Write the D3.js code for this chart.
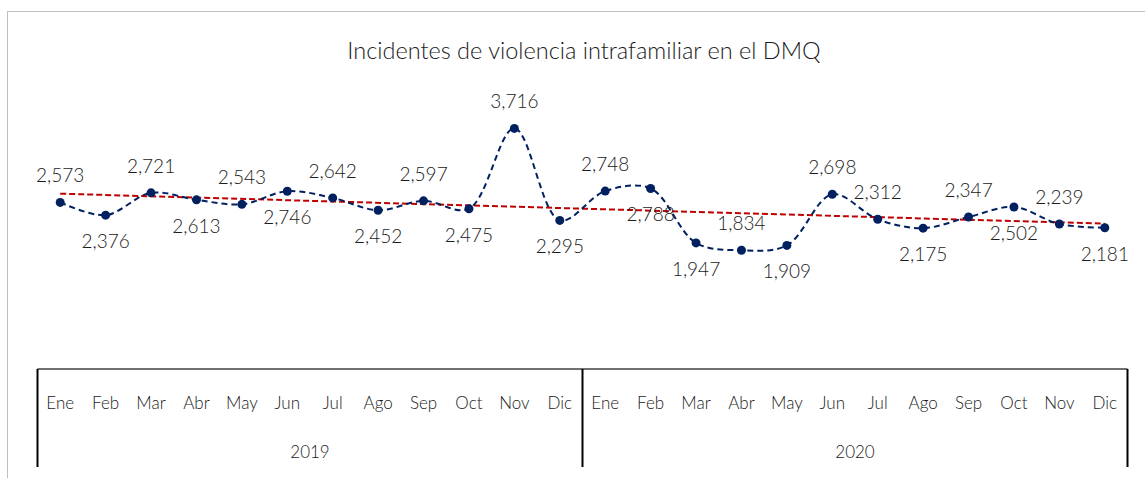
<!DOCTYPE html>
<html>
<head>
<meta charset="utf-8">
<script src="https://cdn.jsdelivr.net/npm/d3@7"></script>
<style>
  body { margin: 0; background: #fff; }
  text { font-family: "Lato", "Noto Sans", sans-serif; font-weight: 300; fill: #1a1a1a; }
</style>
</head>
<body>
<div id="chart"></div>
<script>
// data
var years = ["2019", "2020"];
var months = ["Ene","Feb","Mar","Abr","May","Jun","Jul","Ago","Sep","Oct","Nov","Dic"];
var values2019 = [2573, 2376, 2721, 2613, 2543, 2746, 2642, 2452, 2597, 2475, 3716, 2295];
var values2020 = [2748, 2788, 1947, 1834, 1909, 2698, 2312, 2175, 2347, 2502, 2239, 2181];
// label side for each point: t = above, b = below
var labelSide = ["t","b","t","b","t","b","t","b","t","b","t","b",
                 "t","b","b","t","b","t","t","b","t","b","t","b"];

var width = 1145, height = 478;

var data = [];
years.forEach(function(y, yi) {
    var vals = yi == 0 ? values2019 : values2020;
    months.forEach(function(m, mi) {
        data.push({key: y + "-" + m, year: y, month: m, value: vals[mi]});
    });
});
data.forEach(function(d, i) { d.side = labelSide[i]; d.i = i; });

var svg = d3.select("#chart")
    .append("svg")
    .attr("width", width)
    .attr("height", height);

// chart border
svg.append("rect")
    .attr("x", 7.5)
    .attr("y", 11.5)
    .attr("width", 1160)
    .attr("height", 480)
    .attr("fill", "none")
    .attr("stroke", "#bfbfbf")
    .attr("stroke-width", 1);

svg.append("text")
    .attr("x", 584)
    .attr("y", 59)
    .attr("text-anchor", "middle")
    .style("font-size", "23.5px")
    .text("Incidentes de violencia intrafamiliar en el DMQ");

var x = d3.scalePoint()
    .domain(data.map(function(d) { return d.key; }))
    .range([37.5, 1127.5])
    .padding(0.5);

var y = d3.scaleLinear()
    .domain([0, 4000])
    .range([369, 110]);

// category axis drawn as a two level table
var axisG = svg.append("g").attr("class", "axis");
var step = x.step();
var x0 = x.range()[0], x1 = x.range()[1];

axisG.append("line")
    .attr("x1", x0).attr("x2", x1)
    .attr("y1", y(0)).attr("y2", y(0))
    .attr("stroke", "#404040").attr("stroke-width", 1.5);

d3.range(years.length + 1).forEach(function(k) {
    var xx = x0 + k * months.length * step;
    axisG.append("line")
        .attr("x1", xx).attr("x2", xx)
        .attr("y1", y(0)).attr("y2", 467)
        .attr("stroke", "#000").attr("stroke-width", 2);
});

axisG.selectAll(".month")
    .data(data)
    .enter()
    .append("text")
    .attr("class", "month")
    .attr("x", function(d) { return x(d.key); })
    .attr("y", 409)
    .attr("text-anchor", "middle")
    .style("font-size", "17px")
    .text(function(d) { return d.month; });

axisG.selectAll(".year")
    .data(years)
    .enter()
    .append("text")
    .attr("class", "year")
    .attr("x", function(d, i) { return x0 + (i + 0.5) * months.length * step; })
    .attr("y", 458)
    .attr("text-anchor", "middle")
    .style("font-size", "17px")
    .text(function(d) { return d; });

// trend line (least squares)
var n = data.length;
var mx = d3.mean(data, function(d) { return d.i; });
var my = d3.mean(data, function(d) { return d.value; });
var slope = d3.sum(data, function(d) { return (d.i - mx) * (d.value - my); }) /
            d3.sum(data, function(d) { return (d.i - mx) * (d.i - mx); });
var icept = my - slope * mx;

svg.append("line")
    .attr("x1", x(data[0].key))
    .attr("x2", x(data[n - 1].key))
    .attr("y1", y(icept))
    .attr("y2", y(icept + slope * (n - 1)))
    .attr("stroke", "#c00000")
    .attr("stroke-width", 2)
    .attr("stroke-dasharray", "6,3");

var line = d3.line()
    .x(function(d) { return x(d.key); })
    .y(function(d) { return y(d.value); })
    .curve(d3.curveCatmullRom.alpha(0.5));

svg.append("path")
    .datum(data)
    .attr("d", line)
    .attr("fill", "none")
    .attr("stroke", "#002060")
    .attr("stroke-width", 2)
    .attr("stroke-dasharray", "6,4");

svg.selectAll(".dot")
    .data(data)
    .enter()
    .append("circle")
    .attr("class", "dot")
    .attr("cx", function(d) { return x(d.key); })
    .attr("cy", function(d) { return y(d.value); })
    .attr("r", 4.5)
    .attr("fill", "#002060");

svg.selectAll(".lbl")
    .data(data)
    .enter()
    .append("text")
    .attr("class", "lbl")
    .attr("x", function(d) { return x(d.key); })
    .attr("y", function(d) { return y(d.value) + (d.side == "t" ? -20 : 33); })
    .attr("text-anchor", "middle")
    .style("font-size", "19px")
    .text(function(d) { return d3.format(",")(d.value); });
</script>
</body>
</html>
